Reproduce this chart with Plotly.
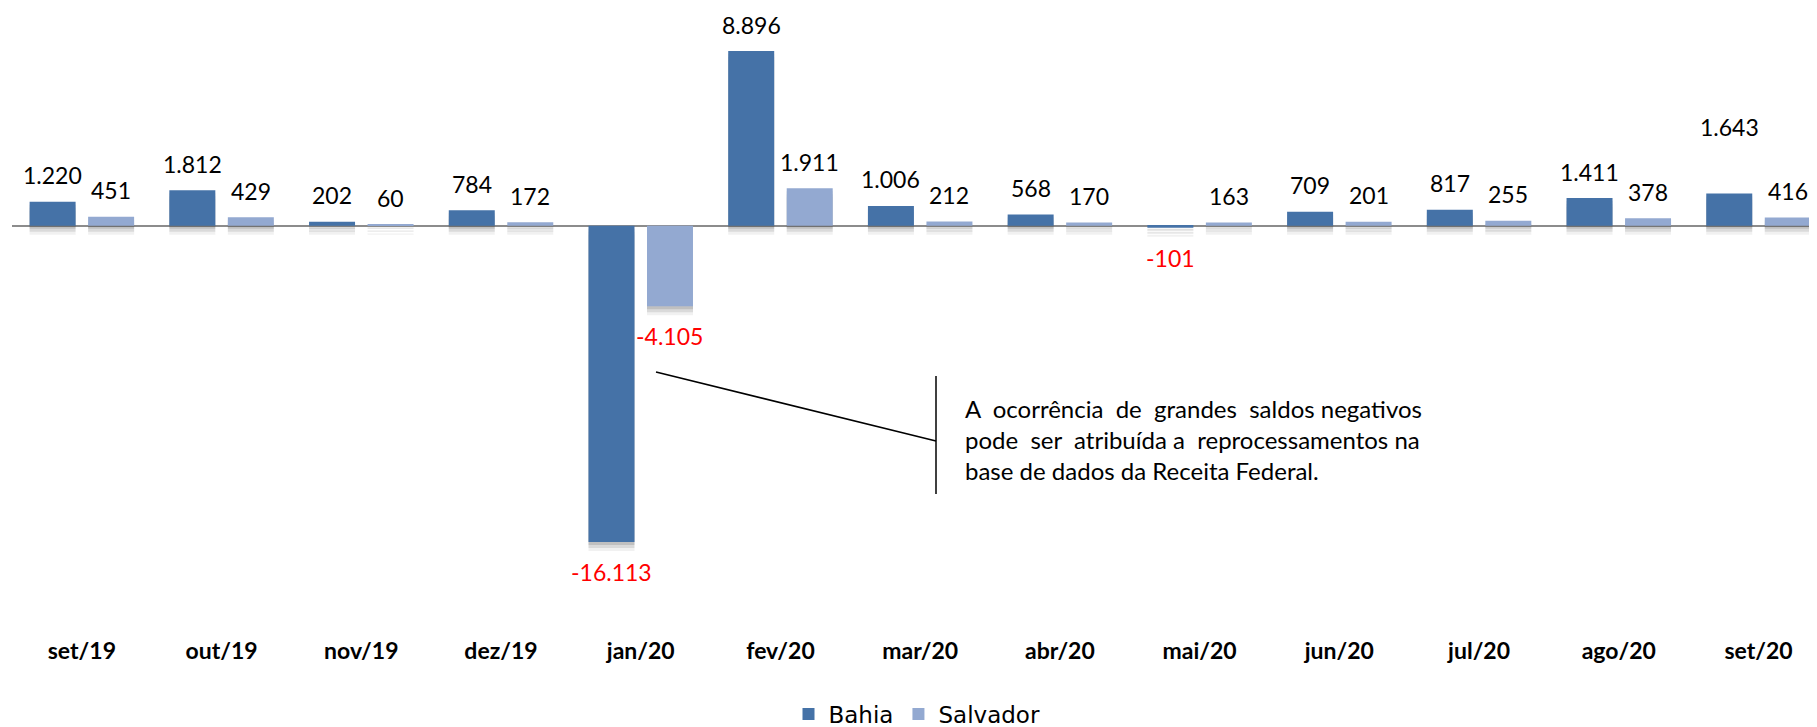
import plotly.graph_objects as go

# ---------------- data ----------------
categories = ["set/19", "out/19", "nov/19", "dez/19", "jan/20", "fev/20", "mar/20",
              "abr/20", "mai/20", "jun/20", "jul/20", "ago/20", "set/20"]
bahia = [1220, 1812, 202, 784, -16113, 8896, 1006, 568, -101, 709, 817, 1411, 1643]
salvador = [451, 429, 60, 172, -4105, 1911, 212, 170, 163, 201, 255, 378, 416]
series_names = ["Bahia", "Salvador"]
note_line1 = ["A", "ocorrência", "de", "grandes", "saldos", "negativos"]
note_line2 = ["pode", "ser", "atribuída", "a", "reprocessamentos", "na"]
note_line3 = ["base", "de", "dados", "da", "Receita", "Federal."]

# ---------------- style / layout ----------------
W, H = 1817, 727
PAGE_OFF = 8                      # default body margin of the html page
L, R, T, B = 4, 12, 12, 100
PW, PH = W - L - R, H - T - B
YMAX, YMIN = 10480, -20850
XMIN, XMAX = -0.5, 12.39
BARGAP, BARGROUPGAP = 0.1625, 0.214
COLORS = {"Bahia": "#4572A7", "Salvador": "#93A9D1"}
UNITS_PER_PX = (YMAX - YMIN) / PH
CAT_PX = PW / (XMAX - XMIN)
SLOT_PX = CAT_PX * (1 - BARGAP) / 2
LABEL_NUDGE = {("Bahia", "set/20"): 40}
# justified-text emulation: number of spaces in each word gap
GAPS = [[2, 2, 2, 2, 1], [2, 2, 1, 2, 1], [1, 1, 1, 1, 1]]
NOTE_Y = [408, 439.5, 470]
NOTE_X = 963
NOTE_FONT = dict(family="Lato", size=24, color="#000000")


def fmt(v):
    return f"{v:,}".replace(",", ".")


def px_x(px):
    return (px - PAGE_OFF - L) / PW


def px_y(py):
    return 1 - (py - PAGE_OFF - T) / PH


def join_words(words, gaps):
    out = words[0]
    for w, g in zip(words[1:], gaps):
        out += "\u00a0" * g + w
    return out


fig = go.Figure()

series = {"Bahia": bahia, "Salvador": salvador}

# soft shadows (drawn first, beneath the bars)
for name in series_names:
    vals = series[name]
    for off, alpha in [(3, 0.16), (6, 0.12), (9, 0.07)]:
        fig.add_trace(go.Bar(
            x=categories, y=vals, base=[-off * UNITS_PER_PX] * len(vals),
            offsetgroup=name, marker=dict(color=f"rgba(60,60,60,{alpha})", line=dict(width=0)),
            showlegend=False, hoverinfo="skip"))

for name in series_names:
    fig.add_trace(go.Bar(
        x=categories, y=series[name], name=name, offsetgroup=name,
        marker=dict(color=COLORS[name], line=dict(width=0))))

annotations = []
for k, name in enumerate(series_names):
    shift = (-0.5 if k == 0 else 0.5) * SLOT_PX
    for cat, v in zip(categories, series[name]):
        ys = 26.5 if v >= 0 else -30
        ys += LABEL_NUDGE.get((name, cat), 0)
        annotations.append(dict(
            x=cat, y=v, xref="x", yref="y", xshift=shift, yshift=ys,
            text=fmt(v), showarrow=False, xanchor="center", yanchor="middle",
            font=dict(family="Lato", size=23, color="#FF0000" if v < 0 else "#000000")))

for words, gaps, yv in zip([note_line1, note_line2, note_line3], GAPS, NOTE_Y):
    annotations.append(dict(
        x=px_x(NOTE_X), y=px_y(yv), xref="paper", yref="paper",
        text=join_words(words, gaps), showarrow=False, xanchor="left", yanchor="middle",
        font=NOTE_FONT))

shapes = [
    dict(type="line", xref="paper", yref="paper", x0=px_x(656), y0=px_y(372),
         x1=px_x(936), y1=px_y(441), line=dict(color="#000000", width=1.5)),
    dict(type="line", xref="paper", yref="paper", x0=px_x(936), y0=px_y(376),
         x1=px_x(936), y1=px_y(494), line=dict(color="#000000", width=1.5)),
]

fig.update_layout(
    width=W, height=H,
    margin=dict(l=L, r=R, t=T, b=B, autoexpand=False),
    paper_bgcolor="white", plot_bgcolor="white",
    barmode="group", bargap=BARGAP, bargroupgap=BARGROUPGAP,
    showlegend=True,
    legend=dict(orientation="h", x=px_x(917), xanchor="center", y=px_y(714), yanchor="middle",
                font=dict(family="DejaVu Sans", size=23, color="#000000"),
                traceorder="normal", bgcolor="rgba(0,0,0,0)"),
    xaxis=dict(type="category", range=[XMIN, XMAX], showgrid=False, showline=False,
               zeroline=False, ticks="",
               tickfont=dict(family="Lato", size=23, color="#000000", weight="bold")),
    yaxis=dict(range=[YMIN, YMAX], showgrid=False, showticklabels=False, ticks="",
               showline=False, zeroline=True, zerolinecolor="#8C8C8C", zerolinewidth=2),
    annotations=annotations, shapes=shapes,
)

fig.write_html("out.html")
